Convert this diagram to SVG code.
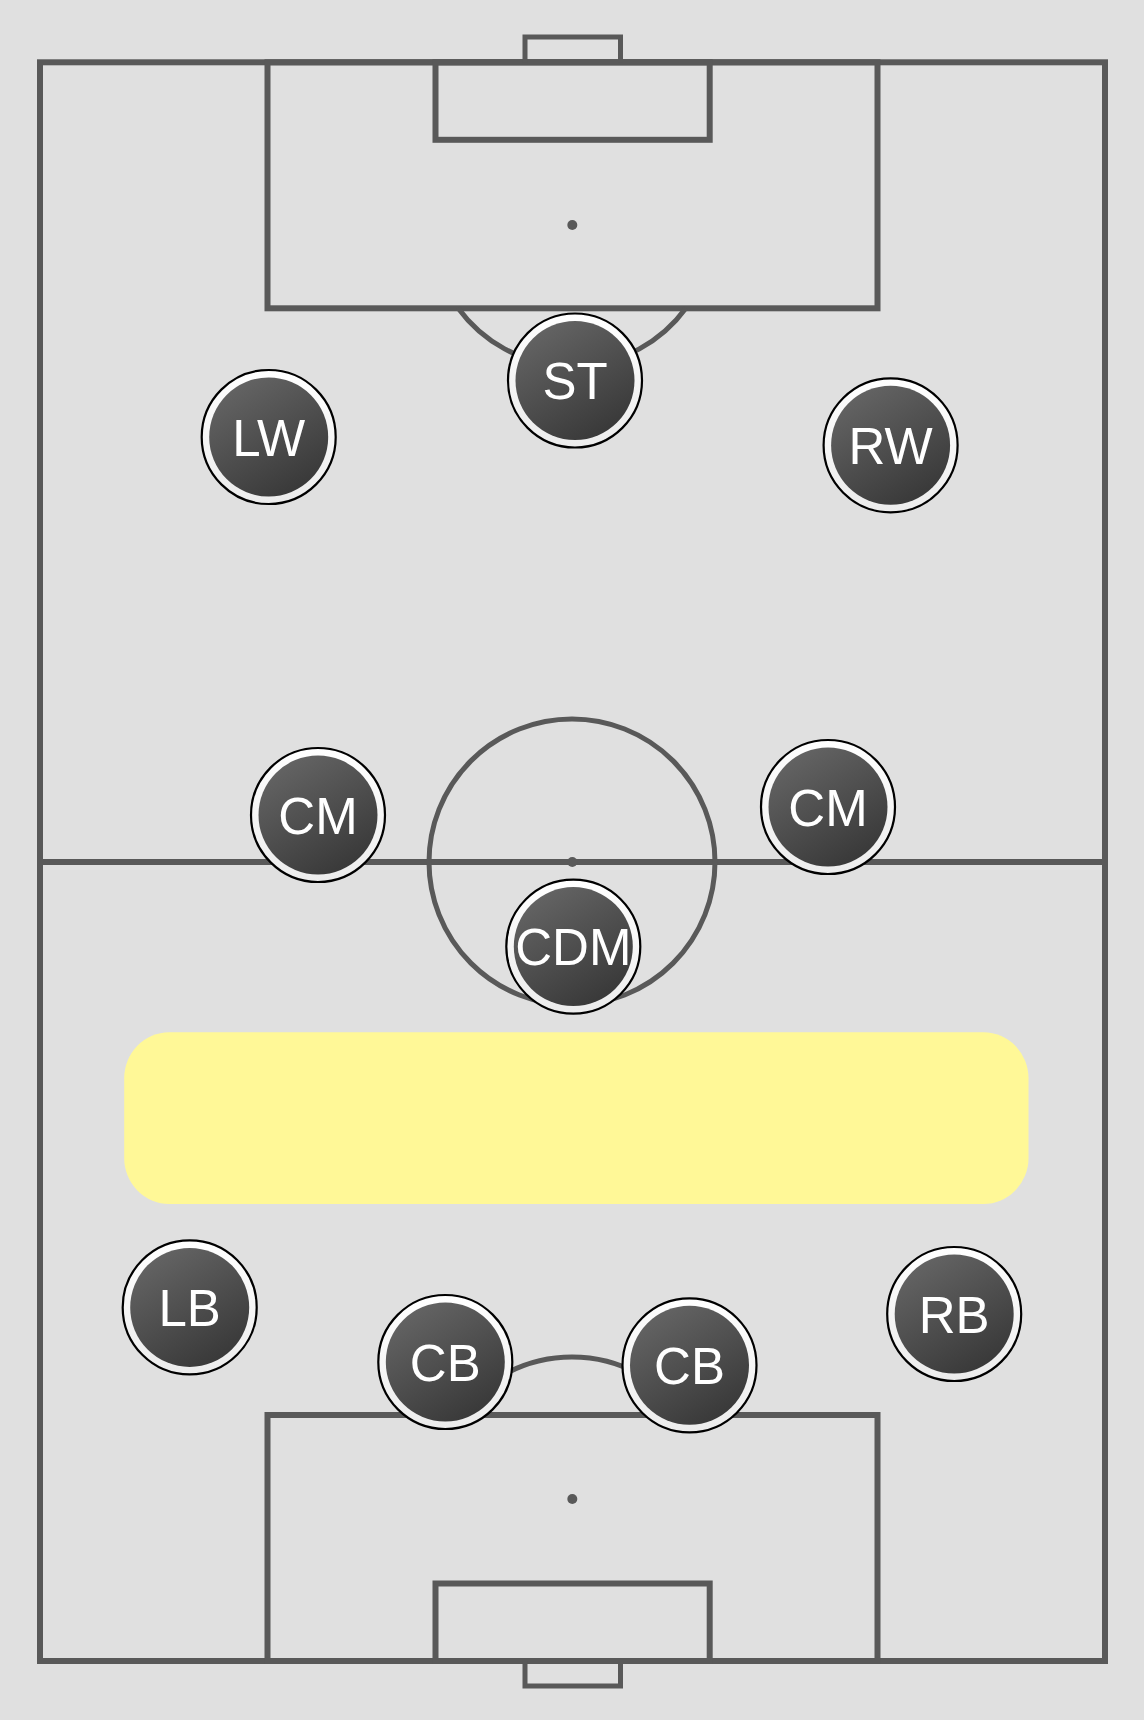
<svg xmlns="http://www.w3.org/2000/svg" width="1144" height="1720" viewBox="0 0 1144 1720">
<defs>
<linearGradient id="pg" x1="0.2" y1="0" x2="0.8" y2="1">
<stop offset="0" stop-color="#666666"/>
<stop offset="1" stop-color="#363636"/>
</linearGradient>
<linearGradient id="rg" x1="0" y1="0" x2="0" y2="1">
<stop offset="0" stop-color="#ffffff"/>
<stop offset="1" stop-color="#ececec"/>
</linearGradient>
<style>
.ln{fill:none;stroke:#595959;stroke-width:6}
.thin{fill:none;stroke:#595959;stroke-width:5}
.spot{fill:#595959}
.ring{fill:url(#rg);stroke:#000;stroke-width:2.2}
.core{fill:url(#pg)}
.lbl{font-family:"Liberation Sans",Arial,Helvetica,sans-serif;font-size:51px;fill:#ffffff;text-anchor:middle}
</style>
</defs>
<rect x="0" y="0" width="1144" height="1720" fill="#e0e0e0"/>
<g id="pitch">
<rect class="ln" x="40" y="62.3" width="1065" height="1598.7"/>
<line class="ln" x1="40" y1="862" x2="1105" y2="862"/>
<circle class="thin" cx="572" cy="862" r="143"/>
<circle class="spot" cx="572.3" cy="862" r="5"/>
<rect class="ln" x="267.5" y="62.3" width="610" height="246"/>
<rect class="ln" x="435.5" y="62.3" width="274.2" height="77.5"/>
<path class="thin" d="M525 62.3 V37 H620.5 V62.3"/>
<circle class="spot" cx="572.3" cy="225" r="5"/>
<path class="thin" d="M458 308 A141 141 0 0 0 686 308"/>
<rect class="ln" x="267.5" y="1415" width="610" height="246"/>
<rect class="ln" x="435.5" y="1583.5" width="274.2" height="77.5"/>
<path class="thin" d="M525 1661 V1686 H620.5 V1661"/>
<circle class="spot" cx="572.3" cy="1499" r="5"/>
<path class="thin" d="M458 1415 A141 141 0 0 1 686 1415"/>
</g>
<rect id="zone" x="124.2" y="1032.3" width="904.3" height="171.7" rx="45" ry="46" fill="#fff897"/>
<g id="ST"><circle class="ring" cx="575" cy="380.5" r="67"/><circle class="core" cx="575" cy="380.5" r="59.5"/><text class="lbl" x="575" y="399">ST</text></g>
<g id="LW"><circle class="ring" cx="268.7" cy="437" r="67"/><circle class="core" cx="268.7" cy="437" r="59.5"/><text class="lbl" x="268.7" y="455.5">LW</text></g>
<g id="RW"><circle class="ring" cx="890.6" cy="445.3" r="67"/><circle class="core" cx="890.6" cy="445.3" r="59.5"/><text class="lbl" x="890.6" y="463.8">RW</text></g>
<g id="CM-L"><circle class="ring" cx="318" cy="815" r="67"/><circle class="core" cx="318" cy="815" r="59.5"/><text class="lbl" x="318" y="833.5">CM</text></g>
<g id="CM-R"><circle class="ring" cx="828" cy="807" r="67"/><circle class="core" cx="828" cy="807" r="59.5"/><text class="lbl" x="828" y="825.5">CM</text></g>
<g id="CDM"><circle class="ring" cx="573.3" cy="946.6" r="67"/><circle class="core" cx="573.3" cy="946.6" r="59.5"/><text class="lbl" x="573.3" y="965.1">CDM</text></g>
<g id="LB"><circle class="ring" cx="189.7" cy="1307.4" r="67"/><circle class="core" cx="189.7" cy="1307.4" r="59.5"/><text class="lbl" x="189.7" y="1325.9">LB</text></g>
<g id="CB-L"><circle class="ring" cx="445.3" cy="1362" r="67"/><circle class="core" cx="445.3" cy="1362" r="59.5"/><text class="lbl" x="445.3" y="1380.5">CB</text></g>
<g id="CB-R"><circle class="ring" cx="689.5" cy="1365.3" r="67"/><circle class="core" cx="689.5" cy="1365.3" r="59.5"/><text class="lbl" x="689.5" y="1383.8">CB</text></g>
<g id="RB"><circle class="ring" cx="954.2" cy="1314" r="67"/><circle class="core" cx="954.2" cy="1314" r="59.5"/><text class="lbl" x="954.2" y="1332.5">RB</text></g>
</svg>
